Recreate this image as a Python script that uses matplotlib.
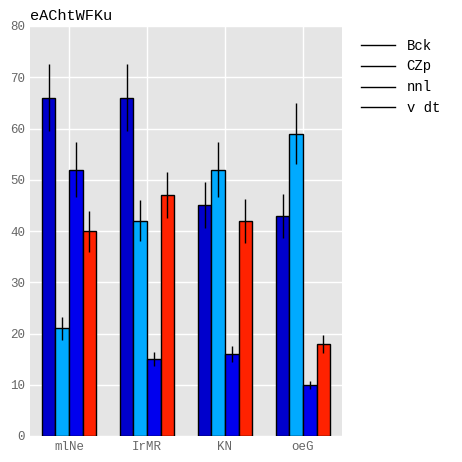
import numpy as np
import matplotlib
matplotlib.use("Agg")
import matplotlib.pyplot as plt

plt.rcParams['font.family'] = ['Liberation Mono', 'DejaVu Sans Mono']

categories = ["mlNe", "IrMR", "KN", "oeG"]
series = ["Bck", "CZp", "nnl", "v dt"]
values = [
    [66, 66, 45, 43],
    [21, 42, 52, 59],
    [52, 15, 16, 10],
    [40, 47, 42, 18],
]
errors = [
    [6.5, 6.5, 4.5, 4.3],
    [2.3, 4.0, 5.3, 6.0],
    [5.3, 1.3, 1.5, 0.8],
    [4.0, 4.5, 4.3, 1.8],
]
colors = ["#0000cc", "#00aaff", "#0000ee", "#ff2200"]

fig = plt.figure(figsize=(4.62, 4.62), dpi=100)
ax = fig.add_axes([30/462, 26/462, 312/462, 410/462])
ax.set_facecolor("#e5e5e5")
fig.patch.set_facecolor("white")

x = np.arange(len(categories))
w = 0.175
for i, (s, v, e, c) in enumerate(zip(series, values, errors, colors)):
    ax.bar(x + (i - 1.5) * w, v, w, color=c, edgecolor="black", linewidth=1,
           zorder=3)
    ax.errorbar(x + (i - 1.5) * w, v, yerr=e, fmt="none", ecolor="black",
                elinewidth=1, capsize=0, zorder=4)
    ax.plot([], [], color="black", linewidth=1, label=s)

ax.set_xlim(-0.5, 3.5)
ax.set_ylim(0, 80)
ax.set_xticks(x)
ax.set_xticklabels(categories)
ax.set_yticks(range(0, 81, 10))
ax.grid(True, color="white", linewidth=1, zorder=0)
ax.set_axisbelow(True)
for sp in ax.spines.values():
    sp.set_visible(False)
ax.tick_params(colors="#888888", labelsize=9, length=0)
for lbl in ax.get_xticklabels() + ax.get_yticklabels():
    lbl.set_color("#666666")
ax.set_title("eAChtWFKu", loc="left", fontsize=11, pad=4)
ax.legend(loc="upper left", bbox_to_anchor=(1.02, 1.0), frameon=False,
          fontsize=10, handlelength=2.5)

fig.savefig("out.png", dpi=100)
